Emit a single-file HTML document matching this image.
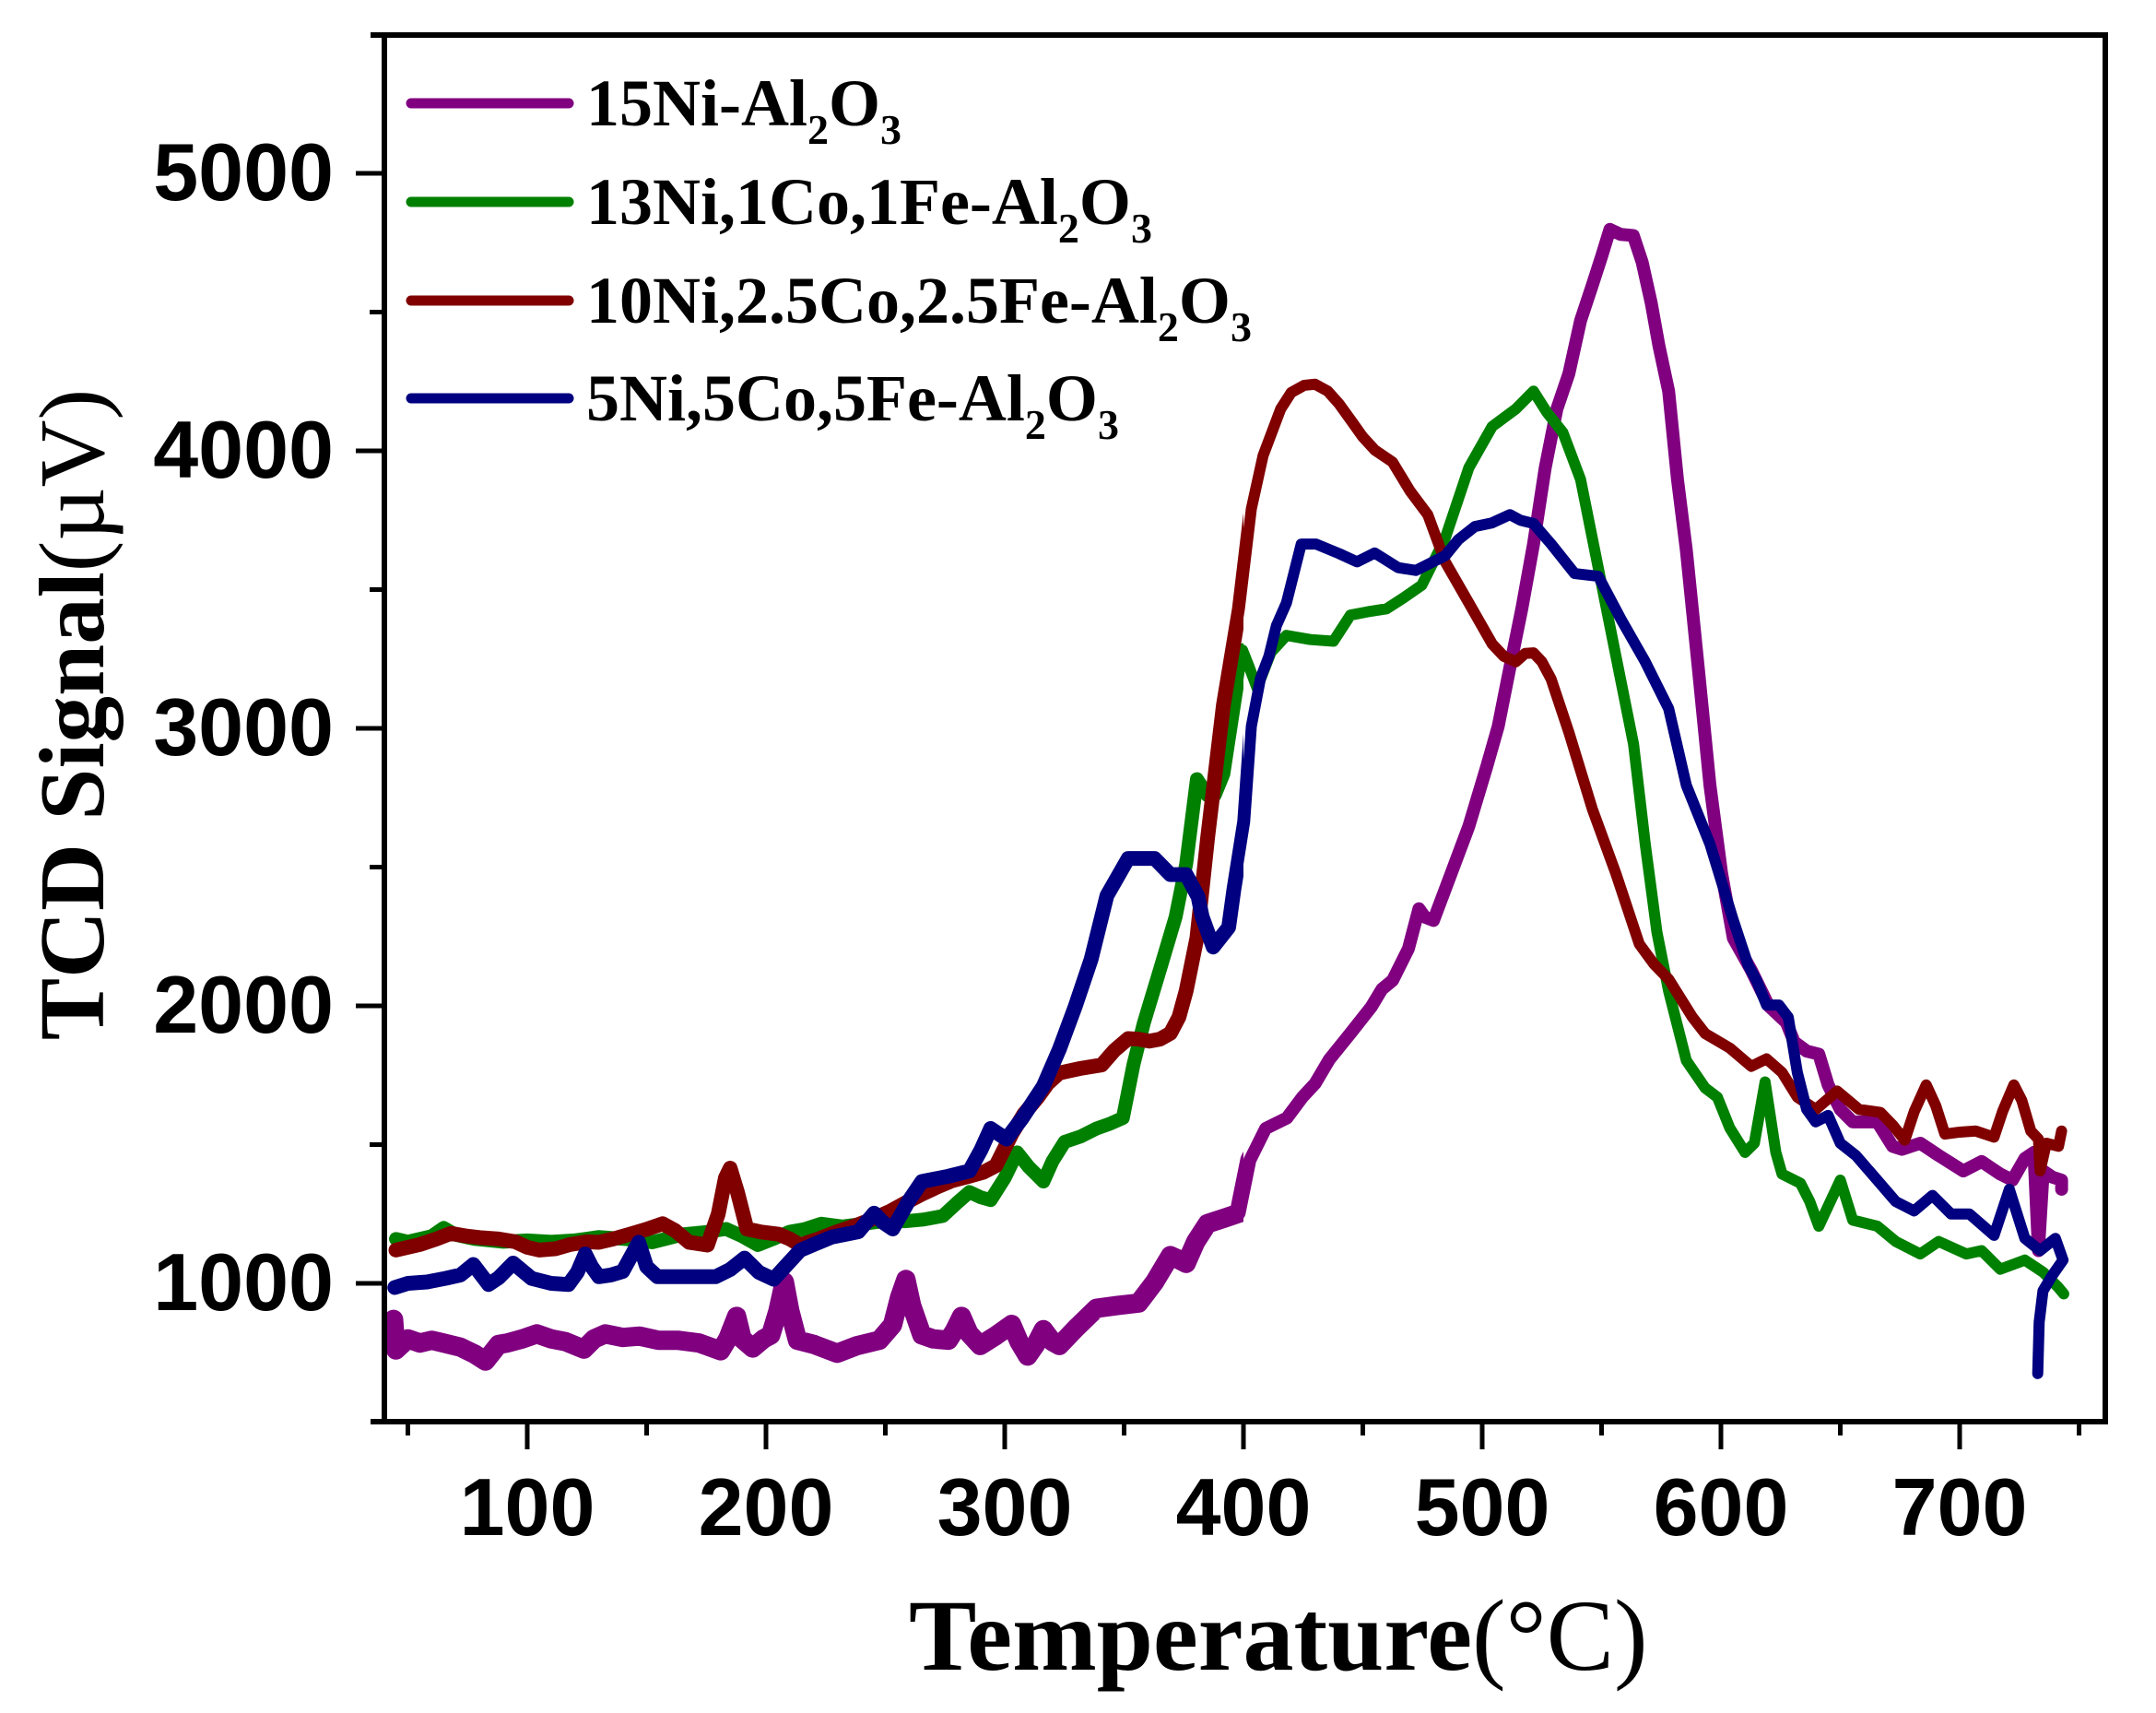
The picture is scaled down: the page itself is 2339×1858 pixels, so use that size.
<!DOCTYPE html>
<html>
<head>
<meta charset="utf-8">
<style>
  html, body { margin: 0; padding: 0; background: #fff; }
  svg { display: block; }
</style>
</head>
<body>
<svg xmlns="http://www.w3.org/2000/svg" width="2339" height="1858" viewBox="0 0 2339 1858">
  <rect x="0" y="0" width="2339" height="1858" fill="#ffffff"/>
  <defs>
    <clipPath id="lowT" clipPathUnits="userSpaceOnUse">
      <rect x="0" y="0" width="1349" height="1858"/>
    </clipPath>
    <clipPath id="plotArea" clipPathUnits="userSpaceOnUse">
      <rect x="420" y="41" width="1861" height="1498"/>
    </clipPath>

    <polyline id="sPurple" vector-effect="non-scaling-stroke" fill="none" stroke-linejoin="round" stroke-linecap="round" points="
44,870 45,760 50,800 55,785 60,795 65,785 72,770 78,745 82.5,720 88,780 91.5,785 98,800 104,818 110,800 116,790 123.7,763 128,800 132.7,818 140,805 147,810 155,795 163,795 172,785 181,757 184,800 187.7,881 190,800 194.4,767 199,800 202,814 205,900 207.7,1005 210,900 213.2,795 220,780 229.8,748 238,775 247.5,795 253,850 256,950 258.6,1014 261,920 265.3,814 270,800 276.4,795 279,830 281.9,881 285,820 289.7,776 296,810 302.9,852 306,790 309.6,738 313,780 316.2,833 320,790 322.9,776 330,840 338.4,910 347,920 356.1,929 362.8,1005 369.4,1100 372,1090 376,1072 380,1150 384.9,1215 392,1235 398.2,1253 402.7,1444 409.3,1558 418.2,1596 424.8,1672 430,1720 435.9,1806 444.8,1901 453.6,1997 458,2060 462.5,2092 469.1,2206 473.5,2350 476,2320 479.6,2308 487,2477 494.4,2647 501.8,2859 506.7,3007 511.6,3219 516.6,3431 521.5,3664 526.4,3939 531.3,4151 536.3,4278 541.2,4469 546.1,4596 550,4700 553.5,4798 558,4780 563.3,4776 567,4680 570.8,4533 574,4380 578.1,4215 581.8,3897 585.5,3643 590.5,3219 595.4,2795 600.3,2477 605.2,2244 612.6,2130 620,2000 627.4,1940 630.7,1870 635.9,1837 641,1826 644.9,1715 650,1627 655.2,1582 665.5,1582 671.9,1494 675.8,1483 683.5,1505 691.2,1461 701.5,1405 709.2,1439 717,1394 722.1,1372 727.3,1450 731.1,1472 733,1118 735,1405 738.8,1383 742.7,1372 742.7,1339"/>

    <polyline id="sGreen" vector-effect="non-scaling-stroke" fill="none" stroke-linejoin="round" stroke-linecap="round" points="
45,1160 50,1150 55,1160 60,1170 65,1200 70,1175 78,1160 90,1150 100,1155 110,1150 120,1155 130,1167 141,1160 152.3,1148 165.6,1177 175,1185 183.3,1196 190,1170 196.6,1138 203,1160 209.9,1186 216,1195 223.2,1215 232,1205 240.9,1215 250,1225 258.6,1224 266,1230 274.1,1243 280,1290 285.2,1329 290,1310 294.1,1300 300,1380 305.2,1472 310,1420 316.2,1367 320,1440 325.1,1510 332,1530 338.4,1558 344,1575 349.5,1596 353.9,1787 358.3,1939 365,2130 371.6,2321 376,2511 380.5,2817 384.9,2759 388,2760 391.6,2836 396,3084 399.6,3282 402,3230 405.7,3145 411.5,3274 418,3335 428,3320 437.7,3314 444.8,3408 452,3420 460,3431 467,3470 474.7,3516 484.5,3685 494.4,3939 504.2,4088 514.1,4151 521.5,4215 527,4140 533.8,4066 541.2,3897 548.6,3579 556,3261 563.4,2943 568.3,2583 573.2,2265 578.1,2053 585.5,1803 593.4,1704 598.5,1671 603.7,1560 610.1,1472 614,1505 618.5,1726 623,1472 625.6,1394 633.3,1361 637.2,1295 641,1206 650,1372 655.2,1228 665.5,1206 673.2,1151 683.5,1106 691.2,1151 702.8,1106 709.2,1118 717,1051 727.3,1084 735,1040 741.4,985 743.6,962"/>

    <polyline id="sRed" vector-effect="non-scaling-stroke" fill="none" stroke-linejoin="round" stroke-linecap="round" points="
45,1120 50,1130 55,1140 62,1160 68,1180 75,1170 80,1165 88,1160 95,1150 100,1130 105,1120 112,1125 118,1140 125,1150 130,1148 136,1160 143,1177 150,1195 156.7,1215 162,1190 167.8,1148 175.5,1138 180,1250 183,1380 185,1415 188,1330 192,1196 198,1185 205.4,1177 210,1160 214.3,1138 222,1160 229.8,1186 238,1210 245.3,1234 252,1260 258.6,1291 265,1320 271.9,1348 278,1370 285.2,1386 291,1400 296.3,1424 303,1539 308,1610 314,1672 318,1720 322.9,1758 332,1775 340.6,1787 346,1840 351.7,1882 356,1880 360.6,1873 365,1880 369.4,1901 373,1960 376,2054 380.5,2245 385,2607 391.6,3084 398.3,3431 403.3,3791 408.2,3982 415.6,4151 420,4210 425.4,4236 430,4240 435.3,4215 440,4170 445.1,4109 450,4050 455,4003 462.4,3960 469.8,3855 477.2,3770 484.5,3600 494.4,3452 504.2,3304 509,3260 514.1,3240 518,3270 521.5,3272 525,3240 528.9,3177 536.3,2986 546.1,2710 556,2477 565.8,2223 572,2150 578.1,2096 588,1960 593.4,1900 603.7,1848 612.7,1782 619.1,1809 625.6,1760 632,1671 639.7,1627 648.7,1693 657.8,1627 666.8,1616 671.9,1571 677,1516 681,1620 686,1715 690,1640 693.8,1538 700,1545 706.7,1549 714.4,1527 718,1620 722.7,1715 726,1660 729.8,1549 733,1520 733.7,1405 736.3,1505 741.4,1494 742.7,1549"/>

    <polyline id="sBlue" vector-effect="non-scaling-stroke" fill="none" stroke-linejoin="round" stroke-linecap="round" points="
44.5,985 50,1000 58,1005 65.8,1018 72,1030 77.4,1068 83.8,996 88,1020 94.1,1073 101.8,1018 110,1000 117.3,996 121,1040 124.3,1106 127,1060 130,1024 135,1030 140,1043 146.7,1148 150,1060 154.5,1024 163.3,1024 178.9,1024 185,1050 191,1091 197,1040 203.2,1015 208,1060 214.3,1119 220,1140 227.6,1167 238.7,1186 245.3,1253 249,1220 253.1,1196 260,1300 265.3,1367 276.4,1386 285.2,1405 290,1480 294.1,1558 300.7,1520 307.4,1596 316.2,1711 322.9,1844 329.5,1997 336.2,2168 342.8,2397 351.7,2531 362.8,2531 369.4,2473 376,2473 381,2393 382.7,2321 387.3,2212 393.8,2283 396,2420 400.5,2664 403.3,3007 407.1,3179 410.7,3261 413.8,3370 418,3452 424.2,3664 430.4,3664 440,3630 447.6,3600 455,3632 464.8,3579 472.2,3569 484.5,3622 490,3680 496.9,3727 504,3740 511.6,3770 516,3750 521.5,3738 528.9,3664 538.7,3558 548.6,3548 558.4,3389 568.3,3240 578.1,3071 585.5,2795 595.4,2583 605.2,2308 611.4,2147 615,2090 619.1,2003 624.3,2003 628.2,1959 632,1760 635.9,1627 639.7,1582 644.9,1605 650,1505 656.5,1461 665.5,1372 673.2,1295 680.9,1261 688.6,1317 696.4,1250 704.1,1250 714.4,1173 720.8,1339 727.3,1162 733.7,1118 740.1,1162 743.3,1084 738.8,1029 734.9,973 733.3,860 732.7,675"/>
  </defs>

  <!-- Data series -->
  <g clip-path="url(#plotArea)">
    <g transform="matrix(2.59 0 0 -0.301 313 1693)">
      <use href="#sPurple" stroke="#800080" stroke-width="14"/>
      <use href="#sGreen" stroke="#008000" stroke-width="12"/>
      <use href="#sRed" stroke="#800000" stroke-width="12"/>
      <use href="#sBlue" stroke="#000080" stroke-width="12"/>
    </g>
    <!-- noisy (thicker) low-temperature region -->
    <g clip-path="url(#lowT)">
      <g transform="matrix(2.59 0 0 -0.301 313 1693)">
        <use href="#sPurple" stroke="#800080" stroke-width="21"/>
        <use href="#sGreen" stroke="#008000" stroke-width="15"/>
        <use href="#sRed" stroke="#800000" stroke-width="16"/>
        <use href="#sBlue" stroke="#000080" stroke-width="16"/>
      </g>
    </g>
  </g>

  <!-- Axes frame -->
  <g stroke="#000" stroke-width="6" fill="none" stroke-linecap="butt">
    <line x1="402" y1="38" x2="2287" y2="38"/>
    <line x1="402" y1="1542" x2="2287" y2="1542"/>
    <line x1="417" y1="35" x2="417" y2="1545"/>
    <line x1="2284" y1="35" x2="2284" y2="1545"/>
  </g>

  <!-- Y ticks -->
  <g stroke="#000" stroke-width="5">
    <line x1="386" y1="1392" x2="417" y2="1392"/>
    <line x1="386" y1="1091" x2="417" y2="1091"/>
    <line x1="386" y1="790" x2="417" y2="790"/>
    <line x1="386" y1="489" x2="417" y2="489"/>
    <line x1="386" y1="188" x2="417" y2="188"/>
    <line x1="401" y1="1241.5" x2="417" y2="1241.5"/>
    <line x1="401" y1="940.5" x2="417" y2="940.5"/>
    <line x1="401" y1="639.5" x2="417" y2="639.5"/>
    <line x1="401" y1="338.5" x2="417" y2="338.5"/>
  </g>

  <!-- X ticks -->
  <g stroke="#000" stroke-width="5">
    <line x1="572" y1="1542" x2="572" y2="1572"/>
    <line x1="831" y1="1542" x2="831" y2="1572"/>
    <line x1="1090" y1="1542" x2="1090" y2="1572"/>
    <line x1="1349" y1="1542" x2="1349" y2="1572"/>
    <line x1="1608" y1="1542" x2="1608" y2="1572"/>
    <line x1="1867" y1="1542" x2="1867" y2="1572"/>
    <line x1="2126" y1="1542" x2="2126" y2="1572"/>
    <line x1="442.5" y1="1542" x2="442.5" y2="1557"/>
    <line x1="701.5" y1="1542" x2="701.5" y2="1557"/>
    <line x1="960.5" y1="1542" x2="960.5" y2="1557"/>
    <line x1="1219.5" y1="1542" x2="1219.5" y2="1557"/>
    <line x1="1478.5" y1="1542" x2="1478.5" y2="1557"/>
    <line x1="1737.5" y1="1542" x2="1737.5" y2="1557"/>
    <line x1="1996.5" y1="1542" x2="1996.5" y2="1557"/>
    <line x1="2255.5" y1="1542" x2="2255.5" y2="1557"/>
  </g>

  <!-- Y tick labels -->
  <g font-family="'Liberation Sans', Arial, sans-serif" font-weight="bold" font-size="88" fill="#000" text-anchor="end">
    <text x="362" y="1421">1000</text>
    <text x="362" y="1120">2000</text>
    <text x="362" y="819">3000</text>
    <text x="362" y="518">4000</text>
    <text x="362" y="217">5000</text>
  </g>

  <!-- X tick labels -->
  <g font-family="'Liberation Sans', Arial, sans-serif" font-weight="bold" font-size="88" fill="#000" text-anchor="middle">
    <text x="572" y="1665">100</text>
    <text x="831" y="1665">200</text>
    <text x="1090" y="1665">300</text>
    <text x="1349" y="1665">400</text>
    <text x="1608" y="1665">500</text>
    <text x="1867" y="1665">600</text>
    <text x="2126" y="1665">700</text>
  </g>

  <!-- Axis titles -->
  <text x="986" y="1811" font-family="'Liberation Serif', 'Times New Roman', serif" font-weight="bold" font-size="110" fill="#000">Temperature<tspan font-weight="normal">(°C)</tspan></text>
  <text transform="translate(112,775) rotate(-90)" text-anchor="middle" font-family="'Liberation Serif', 'Times New Roman', serif" font-weight="bold" font-size="101" fill="#000">TCD Signal<tspan font-weight="normal">(µV)</tspan></text>

  <!-- Legend -->
  <g stroke-width="11" stroke-linecap="round">
    <line x1="446" y1="112" x2="617" y2="112" stroke="#800080"/>
    <line x1="446" y1="219" x2="617" y2="219" stroke="#008000"/>
    <line x1="446" y1="326" x2="617" y2="326" stroke="#800000"/>
    <line x1="446" y1="432" x2="617" y2="432" stroke="#000080"/>
  </g>
  <g font-family="'Liberation Serif', 'Times New Roman', serif" font-weight="bold" font-size="72" fill="#000">
    <text x="636" y="136">15Ni-Al<tspan font-size="46" dy="20">2</tspan><tspan dy="-20">O</tspan><tspan font-size="46" dy="20">3</tspan></text>
    <text x="636" y="243">13Ni,1Co,1Fe-Al<tspan font-size="46" dy="20">2</tspan><tspan dy="-20">O</tspan><tspan font-size="46" dy="20">3</tspan></text>
    <text x="636" y="350">10Ni,2.5Co,2.5Fe-Al<tspan font-size="46" dy="20">2</tspan><tspan dy="-20">O</tspan><tspan font-size="46" dy="20">3</tspan></text>
    <text x="636" y="456">5Ni,5Co,5Fe-Al<tspan font-size="46" dy="20">2</tspan><tspan dy="-20">O</tspan><tspan font-size="46" dy="20">3</tspan></text>
  </g>
</svg>
</body>
</html>
